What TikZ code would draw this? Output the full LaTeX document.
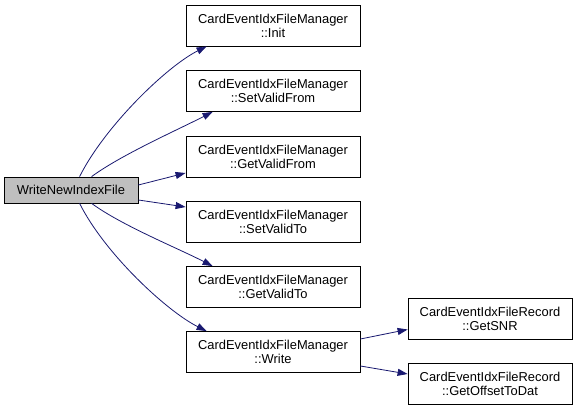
\documentclass[tikz,border=0pt]{standalone}
\usepackage{fontspec}
\setmainfont{Liberation Sans}
\usetikzlibrary{arrows.meta}
\definecolor{edgeblue}{HTML}{191970}
\definecolor{rootgray}{HTML}{BFBFBF}
\begin{document}
\begin{tikzpicture}[x=1pt,y=-1pt,
  box/.style={draw=black,line width=0.8pt,fill=white,inner sep=0pt,align=center,font=\fontsize{12.9}{14}\selectfont},
  mgr/.style={box,minimum width=174pt,minimum height=41pt},
  rec/.style={box,minimum width=164pt,minimum height=41pt},
  edge/.style={draw=edgeblue,line width=0.8pt,-{Triangle[length=10pt,width=7pt]}}]
\useasboundingbox (0,0) rectangle (579,411);
\node[box,fill=rootgray,minimum width=134pt,minimum height=26pt] (root) at (71,190) {WriteNewIndexFile};
\node[mgr] (init) at (273,25.5) {CardEventIdxFileManager\\::Init};
\node[mgr] (svf) at (273,91) {CardEventIdxFileManager\\::SetValidFrom};
\node[mgr] (gvf) at (273,157) {CardEventIdxFileManager\\::GetValidFrom};
\node[mgr] (svt) at (273,222) {CardEventIdxFileManager\\::SetValidTo};
\node[mgr] (gvt) at (273,287) {CardEventIdxFileManager\\::GetValidTo};
\node[mgr] (wr) at (273,352) {CardEventIdxFileManager\\::Write};
\node[rec] (snr) at (490,318.5) {CardEventIdxFileRecord\\::GetSNR};
\node[rec] (off) at (490,383.5) {CardEventIdxFileRecord\\::GetOffsetToDat};
\draw[edge] ([xshift=76pt]root.north west) .. controls +(25,-50) and +(-40,20) .. ([xshift=21pt]init.south west);
\draw[edge] ([xshift=88pt]root.north west) .. controls +(30,-22) and +(-35,18) .. ([xshift=27pt]svf.south west);
\draw[edge] ([yshift=5pt]root.east) -- ([yshift=-16pt]gvf.west);
\draw[edge] ([yshift=-10pt]root.east) -- ([yshift=15pt]svt.west);
\draw[edge] ([xshift=88pt]root.south west) .. controls +(30,22) and +(-35,-18) .. ([xshift=27pt]gvt.north west);
\draw[edge] ([xshift=76pt]root.south west) .. controls +(25,50) and +(-40,-20) .. ([xshift=21pt]wr.north west);
\draw[edge] ([yshift=13pt]wr.east) -- ([yshift=-11pt]snr.west);
\draw[edge] ([yshift=-14pt]wr.east) -- ([yshift=9.5pt]off.west);
\end{tikzpicture}
\end{document}
